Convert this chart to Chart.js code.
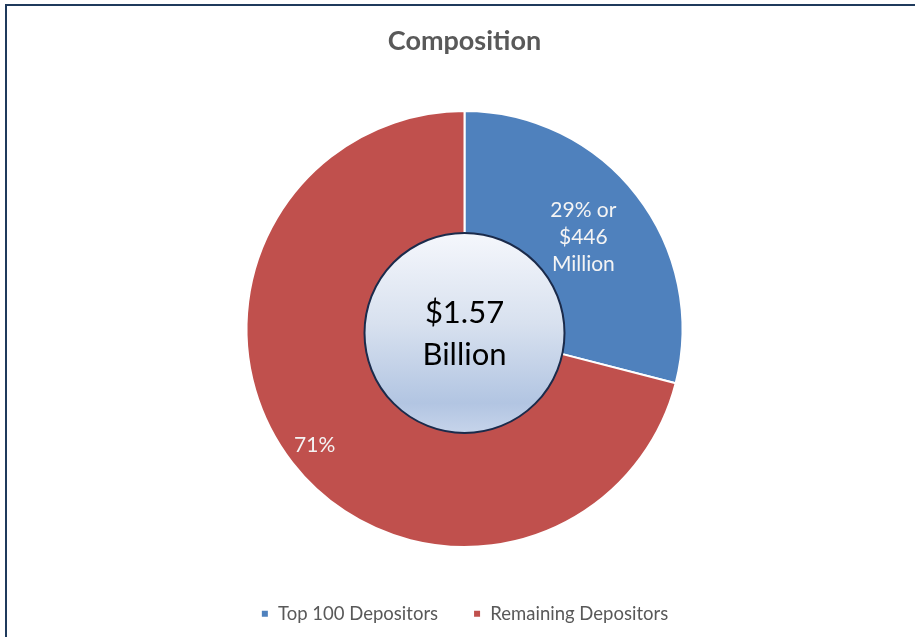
<!DOCTYPE html>
<html>
<head>
<meta charset="utf-8">
<title>Composition</title>
<script src="https://cdn.jsdelivr.net/npm/chart.js@4.4.0/dist/chart.umd.min.js"></script>
<style>
  html, body { margin: 0; padding: 0; background: #fff; overflow: hidden; }
  #wrap { position: relative; width: 915px; height: 637px; }
  #frame {
    position: absolute; left: 5px; top: 4px; width: 940px; height: 660px;
    border-left: 2px solid #1f3a5c; border-top: 2px solid #1f3a5c;
    pointer-events: none;
  }
  canvas { position: absolute; left: 0; top: 0; }
</style>
</head>
<body>
<div id="wrap">
  <canvas id="compChart" width="915" height="637"></canvas>
  <div id="frame"></div>
</div>
<script>
  // data
  const categories = ['Top 100 Depositors', 'Remaining Depositors'];
  const shares = [29, 71];
  const sliceLabels = [['29% or', '$446', 'Million'], ['71%']];
  const centerLabel = ['$1.57', 'Billion'];
  const colors = ['#4f81bd', '#c0504d'];

  const FONT = 'Lato, Carlito, "Open Sans", sans-serif';

  // radial placement of the slice labels (fraction of outer radius)
  const labelRadius = [0.69, 0.87];

  const hubPlugin = {
    id: 'hub',
    afterDatasetsDraw(chart) {
      const { ctx } = chart;
      const arcs = chart.getDatasetMeta(0).data;
      if (!arcs.length) return;
      const cx = arcs[0].x, cy = arcs[0].y, R = arcs[0].outerRadius;

      // slice labels
      ctx.save();
      ctx.fillStyle = '#f4f4f4';
      ctx.font = '21px ' + FONT;
      ctx.textAlign = 'center';
      ctx.textBaseline = 'middle';
      arcs.forEach((arc, i) => {
        const mid = (arc.startAngle + arc.endAngle) / 2;
        const r = R * labelRadius[i];
        const x = cx + Math.cos(mid) * r;
        const y = cy + Math.sin(mid) * r;
        const lines = sliceLabels[i];
        const lh = 27;
        lines.forEach((t, k) => {
          ctx.fillText(t, x, y + (k - (lines.length - 1) / 2) * lh);
        });
      });
      ctx.restore();

      // centre disc with total
      const hx = cx, hy = cy + 4, hr = 100;
      ctx.save();
      const g = ctx.createLinearGradient(0, hy - hr, 0, hy + hr);
      g.addColorStop(0, '#f5f7fc');
      g.addColorStop(0.45, '#d8e1ef');
      g.addColorStop(0.85, '#b2c5e2');
      g.addColorStop(1, '#c6d4ea');
      ctx.beginPath();
      ctx.arc(hx, hy, hr, 0, Math.PI * 2);
      ctx.fillStyle = g;
      ctx.fill();
      ctx.lineWidth = 2;
      ctx.strokeStyle = '#1b2b4b';
      ctx.stroke();

      ctx.fillStyle = '#000';
      ctx.font = '31px ' + FONT;
      ctx.textAlign = 'center';
      ctx.textBaseline = 'middle';
      ctx.fillText(centerLabel[0], hx, hy - 20);
      ctx.fillText(centerLabel[1], hx, hy + 22);
      ctx.restore();
    }
  };

  new Chart(document.getElementById('compChart'), {
    type: 'doughnut',
    data: {
      labels: categories,
      datasets: [{
        data: shares,
        backgroundColor: colors,
        borderColor: '#ffffff',
        borderWidth: 2
      }]
    },
    options: {
      responsive: false,
      animation: false,
      cutout: '40%',
      radius: 218,
      layout: { padding: { left: 14, right: 0, top: 0, bottom: 4 } },
      plugins: {
        title: {
          display: true,
          text: 'Composition',
          color: '#595959',
          font: { family: FONT, size: 27, weight: 'bold' },
          padding: { top: 25, bottom: 31 }
        },
        legend: {
          position: 'bottom',
          labels: {
            color: '#595959',
            font: { family: FONT, size: 18.5 },
            boxWidth: 8,
            boxHeight: 8,
            padding: 35
          }
        },
        tooltip: { enabled: false }
      }
    },
    plugins: [hubPlugin]
  });
</script>
</body>
</html>
